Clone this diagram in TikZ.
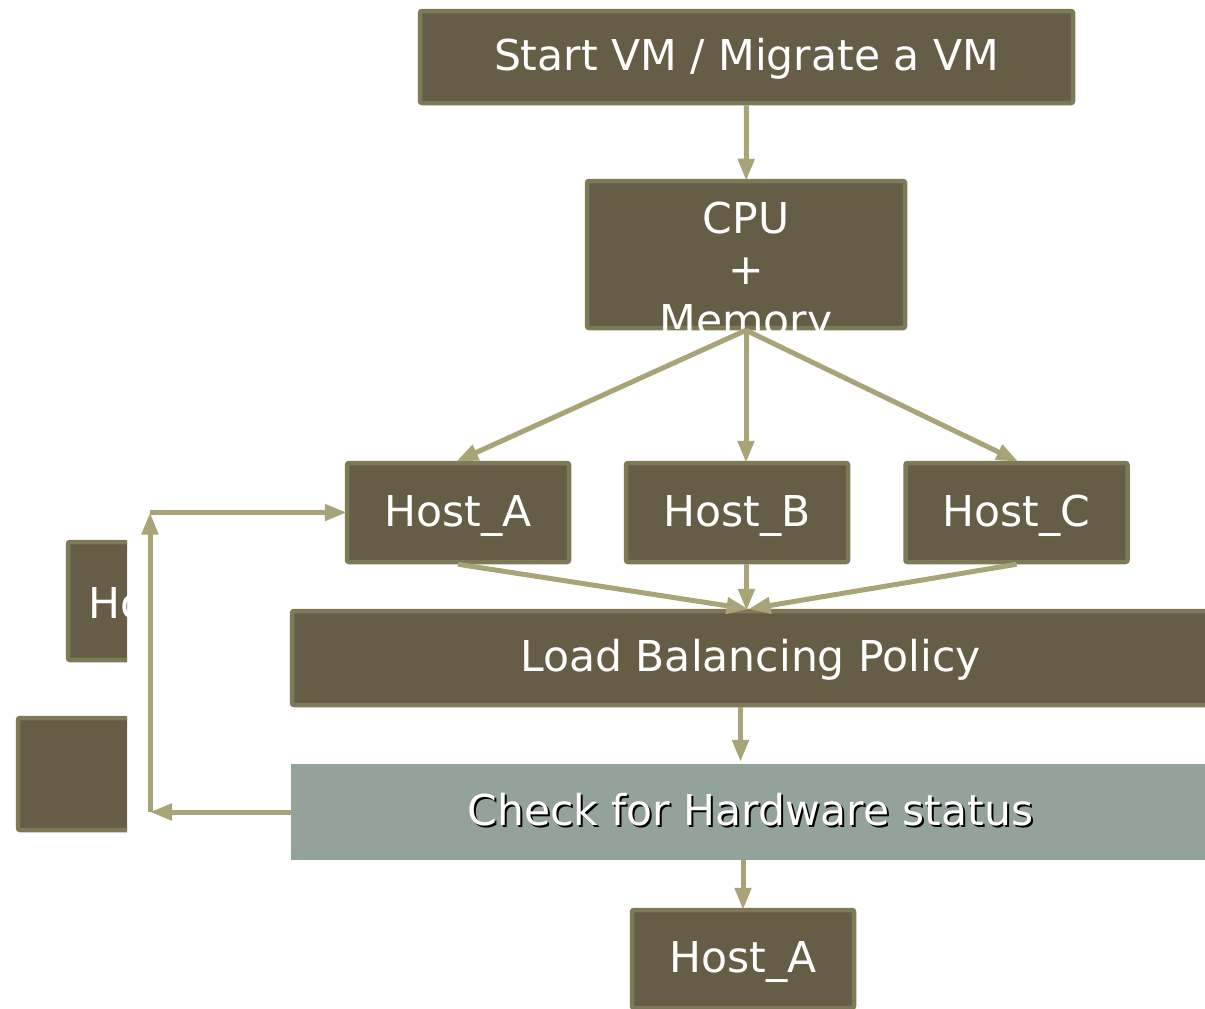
\documentclass[tikz,border=0pt]{standalone}
\usepackage{fontspec}
\setmainfont{DejaVu Sans}
\usetikzlibrary{arrows.meta}

\definecolor{boxfill}{RGB}{101,93,69}
\definecolor{boxline}{RGB}{126,121,86}
\definecolor{flowcol}{RGB}{168,164,120}
\definecolor{checkfill}{RGB}{148,163,154}

\tikzset{
    box/.style={draw=boxline, fill=boxfill, line width=4.5pt, rounded corners=2pt,
        inner sep=0pt, text=white, text height=30pt, text depth=3pt},
    txt/.style={text=white, inner sep=0pt, align=center},
    flow/.style={draw=flowcol, line width=5pt, shorten >=-2pt,
        -{Triangle[length=22pt,width=16pt]}},
}

\begin{document}
\begin{tikzpicture}[x=1pt, y=-1pt, font=\fontsize{42.5pt}{51pt}\selectfont]
    \useasboundingbox (0,0) rectangle (1205,1009);
    \clip (0,0) rectangle (1205,1009);

    % Define the boxes
    \node[box, minimum width=653, minimum height=92] (start) at (746.5,57) {Start VM / Migrate a VM};
    \node[box, minimum width=318, minimum height=147] (cpu) at (746,254.5) {};
    \node[txt] (cputxt) at ([yshift=-19pt]cpu.center) {CPU\\+\\Memory};
    \node[box, minimum width=222, minimum height=99] (hostA) at (458,512.5) {Host\_A};
    \node[box, minimum width=222, minimum height=99] (hostB) at (737,512.5) {Host\_B};
    \node[box, minimum width=222, minimum height=99] (hostC) at (1016.5,512.5) {Host\_C};
    \node[box, minimum width=917, minimum height=94] (lb) at (750.5,658) {Load Balancing Policy};
    \node[fill=checkfill, inner sep=0pt, minimum width=919, minimum height=96] (check) at (750.5,812) {};
    \node[inner sep=0pt, text=black, text height=30pt, text depth=3pt] (checkshadow) at ([shift={(2pt,-2pt)}]check.center) {Check for Hardware status};
    \node[txt, text height=30pt, text depth=3pt] (checktxt) at (check.center) {Check for Hardware status};
    \node[box, minimum width=222, minimum height=98] (hostA2) at (743,959) {Host\_A};

    % Boxes cut off at the left
    \begin{scope}
        \clip (0,0) rectangle (127,1009);
        \node[box, minimum width=222, minimum height=118] (hostD) at (179,601) {};
        \node[txt, anchor=base west] (hostDtxt) at (88,618) {Host};
        \node[box, minimum width=222, minimum height=112] (other) at (129,774) {};
    \end{scope}

    % Loop back points
    \coordinate (loopbot) at (150,812);
    \coordinate (looptop) at (150,512.5);
    \coordinate (lbin) at ([xshift=-4pt]lb.north);

    % Draw the arrows
    \draw[flow] (start) -- (cpu);
    \draw[flow] (cpu.south) -- (hostA.north);
    \draw[flow] (cpu.south) -- (cpu.south |- hostB.north);
    \draw[flow] (cpu.south) -- (hostC.north);
    \draw[flow] (hostA.south) -- (lbin);
    \draw[flow] (hostB.south -| lbin) -- (lbin);
    \draw[flow] (hostC.south) -- (lb.north);
    \draw[flow] ([xshift=-10pt]lb.south) -- ([xshift=-10pt,yshift=4pt]check.north);
    \draw[flow] (check.south -| hostA2.north) -- (hostA2.north);
    \draw[flow, shorten >=0pt] (check.west) -- (loopbot);
    \draw[flow, shorten >=0pt] (loopbot) -- (looptop);
    \draw[flow] (looptop) -- (hostA.west);
\end{tikzpicture}
\end{document}
